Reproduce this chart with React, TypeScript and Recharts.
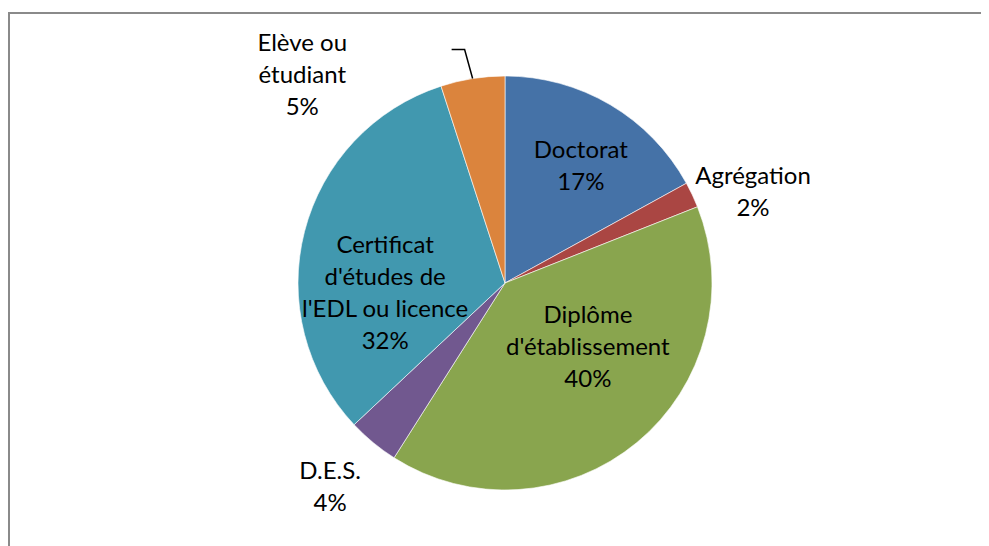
import { PieChart, Pie, Cell } from "recharts";

const categories = [
  "Doctorat",
  "Agrégation",
  "Diplôme\nd'établissement",
  "D.E.S.",
  "Certificat\nd'études de\nl'EDL ou licence",
  "Elève ou\nétudiant",
];
const shares = [17, 2, 40, 4, 32, 5];
const colors = ["#4572A7", "#AA4643", "#89A54E", "#71588F", "#4198AF", "#DB843D"];

// where each label sits: fraction of the radius + angle shift (deg)
const labelPlace = [
  { r: 0.68, shift: -2 },
  { r: 1.28, shift: -4.6 },
  { r: 0.5, shift: 13.6 },
  { r: 1.29, shift: -1.3 },
  { r: 0.58, shift: 18 },
  { r: 1.41, shift: 35 },
];

const data = categories.map((name, i) => ({ name, value: shares[i] }));

const RAD = Math.PI / 180;
const FONT = "Lato, 'Open Sans', sans-serif";
const LINE = 32;

function renderLabel(props: any) {
  const { cx, cy, midAngle, outerRadius, index, value } = props;
  const place = labelPlace[index];
  const a = (midAngle + place.shift) * RAD;
  const x = cx + outerRadius * place.r * Math.cos(a);
  const y = cy - outerRadius * place.r * Math.sin(a);
  const lines = [...categories[index].split("\n"), `${value}%`];
  const top = y - ((lines.length - 1) * LINE) / 2;
  let leader = null;
  if (index === 5) {
    const m = midAngle * RAD;
    const ex = cx + outerRadius * Math.cos(m);
    const ey = cy - outerRadius * Math.sin(m);
    leader = (
      <polyline
        points={`${ex},${ey} ${ex - 8},${ey - 29} ${ex - 21},${ey - 29}`}
        fill="none"
        stroke="#000"
        strokeWidth={1.5}
      />
    );
  }
  return (
    <g key={`lbl-${index}`}>
      {leader}
      <text
        x={x}
        y={top}
        textAnchor="middle"
        dominantBaseline="central"
        fontFamily={FONT}
        fontSize={24}
        fill="#000"
      >
        {lines.map((t, k) => (
          <tspan key={k} x={x} y={top + k * LINE}>
            {t}
          </tspan>
        ))}
      </text>
    </g>
  );
}

export default function App() {
  return (
    <div style={{ position: "relative", width: 981, height: 538, overflow: "hidden" }}>
      <div
        style={{
          position: "absolute",
          left: 0,
          top: 4,
          width: 1000,
          height: 600,
          border: "2px solid #8a8a8a",
          boxSizing: "border-box",
        }}
      />
      <div style={{ position: "absolute", left: 0, top: 0 }}>
        <PieChart width={981} height={538} margin={{ top: 0, right: 0, bottom: 0, left: 0 }}>
          <Pie
            data={data}
            dataKey="value"
            nameKey="name"
            cx={497}
            cy={275}
            outerRadius={207}
            startAngle={90}
            endAngle={-270}
            stroke="#fff"
            strokeWidth={0.6}
            label={renderLabel}
            labelLine={false}
            isAnimationActive={false}
          >
            {data.map((d, i) => (
              <Cell key={d.name} fill={colors[i]} />
            ))}
          </Pie>
        </PieChart>
      </div>
    </div>
  );
}
